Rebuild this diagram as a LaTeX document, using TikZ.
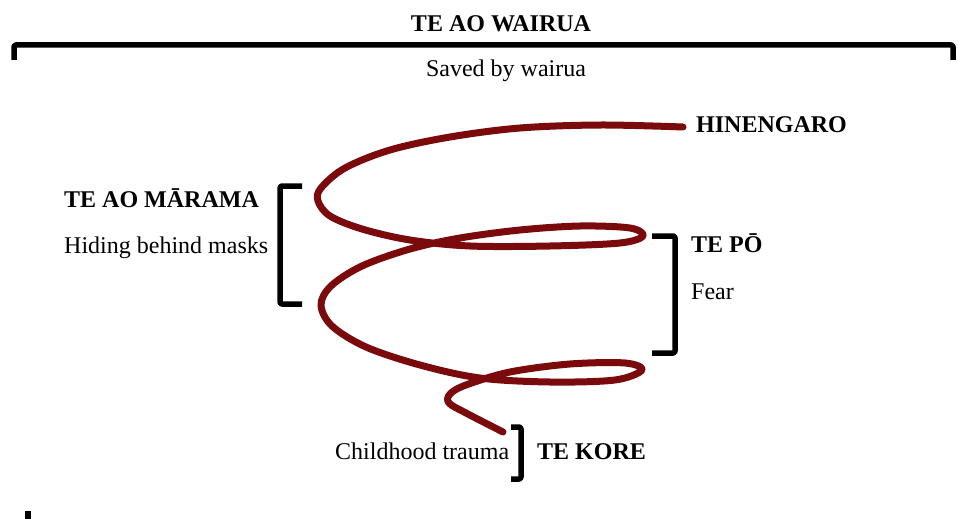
\documentclass[tikz,border=0pt]{standalone}
\usepackage{fontspec}
\setmainfont{Liberation Serif}
\definecolor{wairuared}{HTML}{7A0A0C}
\tikzset{
  lbl/.style={inner sep=0pt,font=\fontsize{24}{28}\selectfont},
  hd/.style={inner sep=0pt,font=\fontsize{24}{28}\selectfont\bfseries},
  brack/.style={line width=5.5pt,line join=round,rounded corners=2pt},
  spiral/.style={line width=7pt,draw=wairuared,line cap=round,line join=round}
}

\begin{document}
\begin{tikzpicture}[x=1pt,y=-1pt]
		\useasboundingbox (0,0) rectangle (958,519);
		%Top
		\node[hd,anchor=base] (wairua) at (501,32) {TE AO WAIRUA};
		\draw[brack] (14,60) -- (14,45) -- (953,45) -- (953,60);
		\node[lbl,anchor=base] (saved) at (506,77) {Saved by wairua};
		%Spiral
		\draw[spiral] plot[smooth,tension=0.55] coordinates {
			(683,127) (600,125) (520,128) (450,137) (390,150) (345,168)
			(321,188) (318,201) (330,216) (362,229) (410,240) (470,246)
			(550,246) (620,243) (643,236) (630,228) (580,226) (520,230)
			(460,238) (410,249) (362,266) (331,286) (321,305) (332,326)
			(366,347) (420,365) (480,378) (550,382) (615,380) (642,370)
			(625,363) (570,364) (510,372) (466,385) (450,394) (449,403)
			(466,413) (503,432)};
		\node[hd,anchor=base west] (hinengaro) at (696,132) {HINENGARO};
		%Left
		\node[hd,anchor=base west] (marama) at (64,207) {TE AO MĀRAMA};
		\node[lbl,anchor=base west] (masks) at (64,253) {Hiding behind masks};
		\draw[brack] (302,186) -- (280,186) -- (280,304) -- (302,304);
		%Right
		\draw[brack] (652,236) -- (675,236) -- (675,353) -- (652,353);
		\node[hd,anchor=base west] (tepo) at (691,252) {TE PŌ};
		\node[lbl,anchor=base west] (fear) at (691,299) {Fear};
		%Bottom
		\node[lbl,anchor=base west] (trauma) at (335,459) {Childhood trauma};
		\draw[brack] (511,427) -- (521,427) -- (521,479) -- (511,479);
		\node[hd,anchor=base west] (tekore) at (537,459) {TE KORE};
		\fill (25,511) rectangle (31,519);
\end{tikzpicture}
\end{document}
